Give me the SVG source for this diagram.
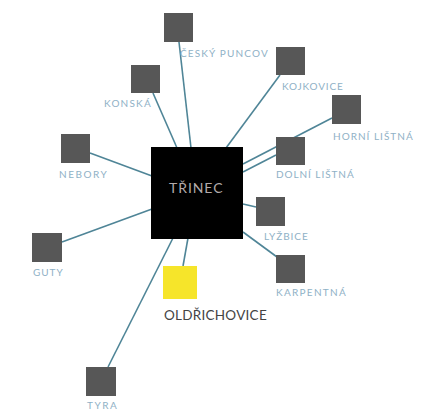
<svg xmlns="http://www.w3.org/2000/svg" width="429" height="412" viewBox="0 0 429 412">
<style>
.bg{fill:#ffffff}
.c{stroke:#4f8597;stroke-width:1.6;fill:none}
.n{fill:#575757}
.l{font-family:"Lato","Liberation Sans",sans-serif;font-size:10px;fill:#8fb1c6;letter-spacing:0.3px}
.hub{fill:#000000}
.ht{font-family:"Lato","Liberation Sans",sans-serif;font-size:14px;fill:#b3aaaa;letter-spacing:0.5px}
.y{fill:#f6e52a}
.yt{font-family:"Lato","Liberation Sans",sans-serif;font-size:13.5px;fill:#444444;letter-spacing:0.3px}
</style>
<rect class="bg" x="0" y="0" width="429" height="412"/>
<g id="connectors">
<line class="c" x1="179" y1="42" x2="191" y2="148"/>
<line class="c" x1="153" y1="93" x2="177" y2="148"/>
<line class="c" x1="280" y1="75" x2="226" y2="148"/>
<line class="c" x1="90" y1="153" x2="152" y2="176"/>
<line class="c" x1="62" y1="242" x2="152" y2="209"/>
<line class="c" x1="332" y1="118" x2="243" y2="164"/>
<line class="c" x1="276" y1="155" x2="243" y2="172"/>
<line class="c" x1="256" y1="207" x2="243" y2="204"/>
<line class="c" x1="277" y1="257" x2="243" y2="232"/>
<line class="c" x1="108" y1="367" x2="173" y2="238"/>
<line class="c" x1="183" y1="266" x2="188" y2="238"/>
</g>
<g id="trinec">
<rect class="hub" x="151" y="147" width="92" height="92"/>
<text class="ht" x="169" y="193" textLength="54">TŘINEC</text>
</g>
<g id="cesky-puncov">
<rect class="n" x="164" y="13" width="29" height="29"/>
<text class="l" x="180" y="57" textLength="88">ČESKÝ PUNCOV</text>
</g>
<g id="konska">
<rect class="n" x="131" y="65" width="29" height="28"/>
<text class="l" x="104" y="107" textLength="47">KONSKÁ</text>
</g>
<g id="kojkovice">
<rect class="n" x="276" y="47" width="29" height="28"/>
<text class="l" x="282" y="90" textLength="61">KOJKOVICE</text>
</g>
<g id="horni-listna">
<rect class="n" x="332" y="95" width="29" height="29"/>
<text class="l" x="333" y="140" textLength="80">HORNÍ LIŠTNÁ</text>
</g>
<g id="dolni-listna">
<rect class="n" x="276" y="137" width="29" height="28"/>
<text class="l" x="276" y="178" textLength="78">DOLNÍ LIŠTNÁ</text>
</g>
<g id="nebory">
<rect class="n" x="61" y="134" width="29" height="29"/>
<text class="l" x="59" y="178" textLength="48">NEBORY</text>
</g>
<g id="guty">
<rect class="n" x="32" y="233" width="30" height="29"/>
<text class="l" x="33" y="276" textLength="30">GUTY</text>
</g>
<g id="lyzbice">
<rect class="n" x="256" y="197" width="29" height="29"/>
<text class="l" x="264" y="240" textLength="44">LYŽBICE</text>
</g>
<g id="karpentna">
<rect class="n" x="276" y="255" width="29" height="28"/>
<text class="l" x="276" y="296" textLength="70">KARPENTNÁ</text>
</g>
<g id="oldrichovice">
<rect class="y" x="163" y="266" width="34" height="33"/>
<text class="yt" x="164" y="320" textLength="103">OLDŘICHOVICE</text>
</g>
<g id="tyra">
<rect class="n" x="86" y="367" width="30" height="29"/>
<text class="l" x="87" y="409" textLength="30">TYRA</text>
</g>
</svg>
